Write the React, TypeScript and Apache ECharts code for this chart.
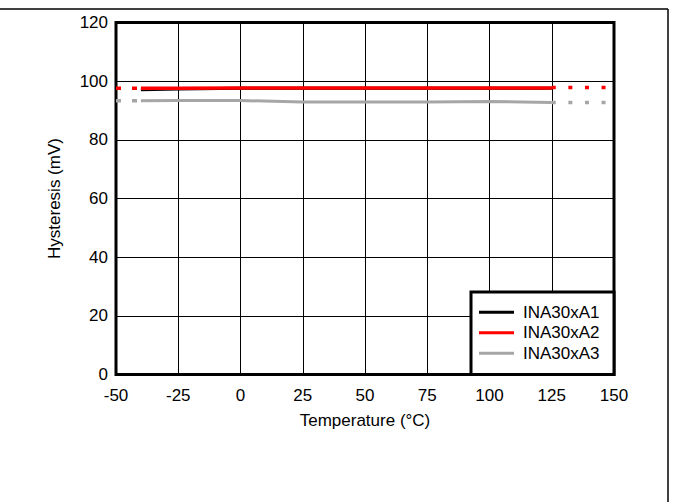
import React, { useEffect, useRef } from "react";
import * as echarts from "echarts";

const temps = [-40, -25, 0, 25, 50, 75, 100, 125];
const a1 = [97.1, 97.3, 97.6, 97.6, 97.6, 97.6, 97.6, 97.6];
const a2 = [97.6, 97.6, 97.7, 97.7, 97.7, 97.7, 97.7, 97.7];
const a3 = [93.3, 93.4, 93.4, 92.9, 92.9, 92.9, 93.1, 92.7];
const extLeftX = [-50, -40];
const extRightX = [125, 150];
const a2ExtLeft = [97.6, 97.6];
const a2ExtRight = [97.8, 97.8];
const a3ExtLeft = [93.3, 93.3];
const a3ExtRight = [92.7, 92.7];
const xTicks = { min: -50, max: 150, interval: 25 };
const yTicks = { min: 0, max: 120, interval: 20 };

const names = ["INA30xA1", "INA30xA2", "INA30xA3"];
const colors = ["#000000", "#ff0000", "#a6a6a6"];

const pairs = (xs: number[], ys: number[]) => xs.map((x, i) => [x, ys[i]]);

export default function App() {
  const ref = useRef<HTMLDivElement>(null);
  useEffect(() => {
    if (!ref.current) return;
    const chart = echarts.init(ref.current, null, { renderer: "svg" });
    const font = "'Liberation Sans', Arial, sans-serif";
    const fs = 17;
    const solid = (i: number, data: number[]) => ({
      name: names[i],
      type: "line",
      data: pairs(temps, data),
      showSymbol: false,
      symbol: "none",
      lineStyle: { color: colors[i], width: i === 1 ? 3.5 : 3 },
      itemStyle: { color: colors[i] },
      z: 3 + i,
    });
    const dotted = (name: string, xs: number[], ys: number[], color: string, dash: number[]) => ({
      name,
      type: "line",
      data: pairs(xs, ys),
      showSymbol: false,
      symbol: "none",
      lineStyle: { color, width: 3.5, type: dash, cap: "butt" },
      z: 3,
    });
    chart.setOption({
      animation: false,
      backgroundColor: "#ffffff",
      grid: {
        left: 116,
        right: 59,
        top: 22.5,
        bottom: 127.5,
        show: true,
        borderColor: "#000",
        borderWidth: 3,
        backgroundColor: "transparent",
      },
      xAxis: {
        type: "value",
        min: xTicks.min,
        max: xTicks.max,
        interval: xTicks.interval,
        name: "Temperature (°C)",
        nameLocation: "middle",
        nameGap: 37,
        nameTextStyle: { fontFamily: font, fontSize: fs, color: "#000" },
        axisLine: { show: false },
        axisTick: { show: false },
        axisLabel: { margin: 12, fontFamily: font, fontSize: fs, color: "#000" },
        splitLine: { show: true, lineStyle: { color: "#000", width: 1 } },
      },
      yAxis: {
        type: "value",
        min: yTicks.min,
        max: yTicks.max,
        interval: yTicks.interval,
        name: "Hysteresis (mV)",
        nameLocation: "middle",
        nameGap: 53,
        nameTextStyle: { fontFamily: font, fontSize: fs, color: "#000" },
        axisLine: { show: false },
        axisTick: { show: false },
        axisLabel: { margin: 8, fontFamily: font, fontSize: fs, color: "#000" },
        splitLine: { show: true, lineStyle: { color: "#000", width: 1 } },
      },
      legend: {
        data: names.map((n) => ({ name: n, icon: "rect" })),
        orient: "vertical",
        left: 479,
        top: 302,
        padding: 0,
        itemGap: 0,
        itemWidth: 35,
        itemHeight: 3,
        textStyle: {
          fontFamily: font,
          fontSize: fs,
          color: "#000",
          lineHeight: 20.5,
          padding: [0, 0, 0, 4],
        },
        z: 20,
      },
      graphic: [
        {
          type: "rect",
          shape: { x: 471, y: 292, width: 143, height: 82.5 },
          style: { fill: "#ffffff", stroke: "#000", lineWidth: 3 },
          z: 10,
        },
        {
          type: "line",
          shape: { x1: 0, y1: 9, x2: 668, y2: 9 },
          style: { stroke: "#000", lineWidth: 1.5 },
          z: 10,
        },
        {
          type: "line",
          shape: { x1: 668, y1: 9, x2: 668, y2: 502 },
          style: { stroke: "#000", lineWidth: 1.5 },
          z: 10,
        },
      ],
      series: [
        dotted("A3L", extLeftX, a3ExtLeft, colors[2], [5, 11]),
        dotted("A3R", extRightX, a3ExtRight, colors[2], [4, 12.6]),
        dotted("A2L", extLeftX, a2ExtLeft, colors[1], [5, 11]),
        dotted("A2R", extRightX, a2ExtRight, colors[1], [4, 12.6]),
        solid(2, a3),
        solid(0, a1),
        solid(1, a2),
      ],
    });
    return () => chart.dispose();
  }, []);
  return (
    <div
      ref={ref}
      style={{ position: "fixed", left: 0, top: 0, width: 673, height: 502, background: "#fff" }}
    />
  );
}
